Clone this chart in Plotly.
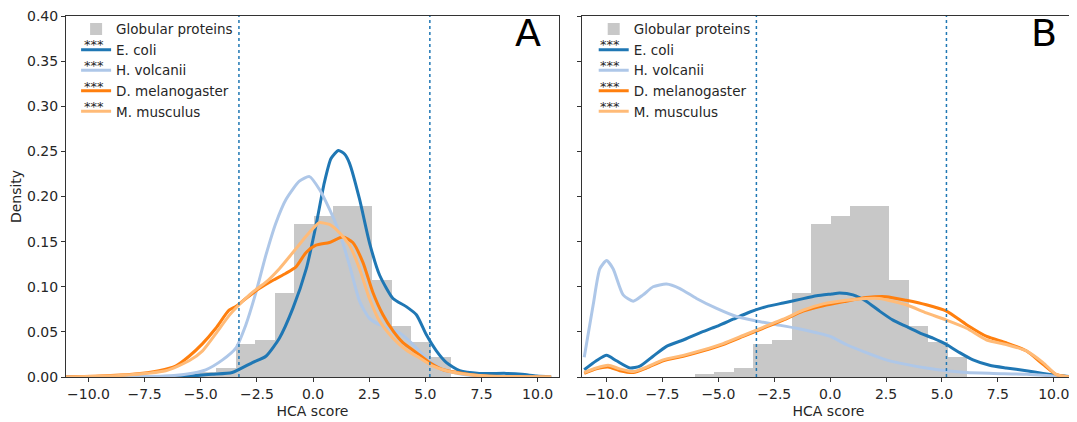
#!/usr/bin/env python3
"""
Distribution des scores HCA : protéines globulaires vs protéomes
"""

import plotly.graph_objects as go
from plotly.subplots import make_subplots

# Histogramme des protéines globulaires (identique dans A et B)
bin_edges = [-6.06, -5.19, -4.32, -3.45, -2.58, -1.71, -0.84, 0.03,
             0.90, 1.77, 2.64, 3.51, 4.38, 5.25, 6.12]
globular_density = [0.003, 0.005, 0.010, 0.037, 0.041, 0.093, 0.170,
                    0.178, 0.189, 0.189, 0.108, 0.057, 0.039, 0.022]

# Seuils (lignes pointillées)
thresholds = [-3.3, 5.2]

species = ["E. coli", "H. volcanii", "D. melanogaster", "M. musculus"]
colors = ["#1f77b4", "#aec7e8", "#ff7f0e", "#ffbb78"]

# Panneau A : courbes de densité
a_ecoli_x = [-11.0, -7.0, -5.5, -4.5, -3.6, -2.7, -2.1, -1.5, -0.9, -0.3, 0.13,
             0.5, 0.8, 1.13, 1.4, 1.62, 2.07, 2.51, 2.96, 3.56, 4.15, 4.6, 5.04,
             5.49, 5.94, 6.53, 7.4, 8.6, 9.3, 9.96, 10.6]
a_ecoli_y = [0.0, 0.0005, 0.001, 0.003, 0.005, 0.016, 0.023, 0.043, 0.076, 0.12,
             0.168, 0.215, 0.242, 0.251, 0.247, 0.237, 0.197, 0.149, 0.113, 0.087,
             0.078, 0.069, 0.047, 0.029, 0.016, 0.007, 0.004, 0.004, 0.003, 0.001, 0.0]

a_hvol_x = [-11.0, -6.6, -5.67, -4.78, -4.03, -3.44, -2.99, -2.54, -2.1, -1.65,
            -1.2, -0.61, -0.16, 0.28, 0.73, 1.17, 1.62, 2.07, 2.51, 3.11, 3.85,
            4.45, 5.04, 5.64, 6.4, 7.4, 10.6]
a_hvol_y = [0.0, 0.001, 0.003, 0.008, 0.019, 0.032, 0.058, 0.094, 0.135, 0.171,
            0.197, 0.217, 0.222, 0.208, 0.186, 0.160, 0.124, 0.084, 0.065, 0.056,
            0.049, 0.036, 0.021, 0.010, 0.004, 0.001, 0.0]

a_dmel_x = [-11.0, -9.5, -8.05, -6.86, -6.12, -5.52, -4.92, -4.33, -3.74, -3.44,
            -2.99, -2.4, -1.8, -1.2, -0.76, -0.31, 0.13, 0.73, 1.32, 1.77, 2.22,
            2.66, 3.11, 3.56, 4.0, 4.6, 5.19, 5.79, 6.68, 7.7, 10.6]
a_dmel_y = [0.0, 0.001, 0.003, 0.007, 0.012, 0.023, 0.037, 0.054, 0.074, 0.078,
            0.087, 0.098, 0.107, 0.115, 0.122, 0.138, 0.146, 0.149, 0.155, 0.149,
            0.127, 0.094, 0.069, 0.051, 0.038, 0.027, 0.016, 0.008, 0.004, 0.001, 0.0]

a_mmus_x = [-11.0, -8.5, -6.56, -5.52, -4.92, -4.33, -3.74, -3.29, -2.69, -2.1,
            -1.5, -0.9, -0.31, 0.13, 0.28, 0.73, 1.17, 1.62, 2.07, 2.51, 2.96,
            3.56, 4.15, 4.75, 5.34, 5.94, 6.83, 7.7, 10.6]
a_mmus_y = [0.0, 0.002, 0.007, 0.018, 0.029, 0.048, 0.068, 0.080, 0.094, 0.105,
            0.120, 0.138, 0.156, 0.168, 0.171, 0.169, 0.160, 0.146, 0.120, 0.087,
            0.062, 0.043, 0.030, 0.021, 0.012, 0.007, 0.003, 0.001, 0.0]

# Panneau B : courbes de densité
b_ecoli_x = [-11.0, -10.46, -10.0, -9.56, -8.96, -8.51, -7.92, -7.32, -6.57,
             -5.83, -5.08, -4.34, -3.59, -2.85, -2.1, -1.36, -0.61, 0.07, 0.42,
             1.02, 1.61, 2.21, 2.81, 3.4, 4.0, 4.6, 5.2, 5.79, 6.39, 7.13, 7.87,
             8.77, 9.52, 10.1, 10.9]
b_ecoli_y = [0.008, 0.018, 0.024, 0.018, 0.010, 0.012, 0.023, 0.034, 0.041,
             0.049, 0.056, 0.064, 0.072, 0.078, 0.082, 0.086, 0.090, 0.092, 0.093,
             0.091, 0.084, 0.073, 0.063, 0.056, 0.049, 0.043, 0.036, 0.027, 0.019,
             0.013, 0.010, 0.007, 0.004, 0.002, 0.0]

b_hvol_x = [-11.0, -10.6, -10.3, -10.0, -9.71, -9.26, -8.81, -8.37, -7.92, -7.32,
            -6.72, -5.98, -5.08, -4.19, -3.3, -2.4, -1.51, -0.61, 0.0, 0.72, 1.61,
            2.51, 3.4, 4.3, 5.2, 6.1, 7.3, 8.8, 10.1, 10.9]
b_hvol_y = [0.022, 0.080, 0.120, 0.129, 0.120, 0.091, 0.084, 0.091, 0.100, 0.103,
            0.098, 0.087, 0.076, 0.067, 0.062, 0.058, 0.054, 0.049, 0.045, 0.036,
            0.027, 0.019, 0.014, 0.010, 0.007, 0.005, 0.004, 0.003, 0.001, 0.0]

b_dmel_x = [-11.0, -10.46, -9.93, -9.41, -8.81, -8.22, -7.47, -6.57, -5.68, -4.79,
            -3.89, -3.0, -2.1, -1.21, -0.31, 0.72, 1.61, 2.51, 3.4, 4.3, 5.2, 6.1,
            7.0, 7.87, 8.77, 9.52, 10.1, 10.7]
b_dmel_y = [0.004, 0.009, 0.011, 0.007, 0.005, 0.010, 0.018, 0.023, 0.029, 0.036,
            0.045, 0.054, 0.063, 0.073, 0.079, 0.084, 0.088, 0.089, 0.085, 0.080,
            0.073, 0.058, 0.045, 0.038, 0.029, 0.014, 0.003, 0.0]

b_mmus_x = [-11.0, -10.46, -9.93, -9.41, -8.81, -8.22, -7.47, -6.57, -5.68, -4.79,
            -3.89, -3.0, -2.1, -1.21, -0.31, 0.72, 1.61, 2.2, 3.4, 4.3, 5.2, 6.1,
            7.0, 7.87, 8.77, 9.52, 10.1, 10.7]
b_mmus_y = [0.005, 0.010, 0.013, 0.009, 0.006, 0.011, 0.019, 0.024, 0.030, 0.037,
            0.046, 0.055, 0.064, 0.074, 0.081, 0.085, 0.087, 0.087, 0.080, 0.071,
            0.063, 0.054, 0.041, 0.036, 0.029, 0.016, 0.003, 0.0]

x_ticks = [-10.0, -7.5, -5.0, -2.5, 0.0, 2.5, 5.0, 7.5, 10.0]
y_ticks = [0.0, 0.05, 0.10, 0.15, 0.20, 0.25, 0.30, 0.35, 0.40]

FONT = "DejaVu Sans"
TXT = "#262626"


def add_panel(fig, col, curves, legend_name):
    """Ajoute histogramme + courbes KDE dans un panneau"""
    centers = [(a + b) / 2 for a, b in zip(bin_edges[:-1], bin_edges[1:])]
    widths = [b - a for a, b in zip(bin_edges[:-1], bin_edges[1:])]
    fig.add_trace(
        go.Bar(
            x=centers,
            y=globular_density,
            width=widths,
            name="Globular proteins",
            marker=dict(color="#c8c8c8", line=dict(width=0)),
            legend=legend_name,
            legendgroup=f"{legend_name}_glob",
        ),
        row=1,
        col=col,
    )
    for i, (xs, ys) in enumerate(curves):
        fig.add_trace(
            go.Scatter(
                x=xs,
                y=ys,
                mode="lines",
                name=species[i],
                line=dict(color=colors[i], width=3, shape="spline", smoothing=0.6),
                legend=legend_name,
                legendgroup=f"{legend_name}_{i}",
            ),
            row=1,
            col=col,
        )
    for t in thresholds:
        fig.add_vline(
            x=t, line_dash="dot", line_color="#1f77b4", line_width=1.5, row=1, col=col
        )


fig = make_subplots(rows=1, cols=2)

add_panel(
    fig,
    1,
    [(a_ecoli_x, a_ecoli_y), (a_hvol_x, a_hvol_y), (a_dmel_x, a_dmel_y), (a_mmus_x, a_mmus_y)],
    "legend",
)
add_panel(
    fig,
    2,
    [(b_ecoli_x, b_ecoli_y), (b_hvol_x, b_hvol_y), (b_dmel_x, b_dmel_y), (b_mmus_x, b_mmus_y)],
    "legend2",
)

axis_common = dict(
    showline=True,
    mirror=True,
    linecolor="#333333",
    linewidth=1,
    ticks="outside",
    ticklen=4,
    tickcolor="#333333",
    showgrid=False,
    zeroline=False,
    automargin=False,
    ticklabeloverflow="allow",
    tickfont=dict(family=FONT, size=14, color=TXT),
)

fig.update_xaxes(
    tickvals=x_ticks,
    tickformat=".1f",
    title=dict(text="HCA score", font=dict(family=FONT, size=14, color=TXT), standoff=5),
    **axis_common,
)
fig.update_xaxes(domain=[0.0, 0.4886], range=[-11.0, 10.95], row=1, col=1)
fig.update_xaxes(domain=[0.5114, 1.0], range=[-11.1, 10.95], row=1, col=2)

fig.update_yaxes(range=[0, 0.40], tickvals=y_ticks, tickformat=".2f", **axis_common)
fig.update_yaxes(
    title=dict(text="Density", font=dict(family=FONT, size=14, color=TXT), standoff=5),
    row=1,
    col=1,
)
fig.update_yaxes(showticklabels=False, row=1, col=2)

legend_common = dict(
    yanchor="top",
    y=1.006,
    xanchor="left",
    bgcolor="rgba(0,0,0,0)",
    font=dict(family=FONT, size=13.5, color=TXT),
    tracegroupgap=0,
)

# Étoiles de significativité au-dessus des symboles de légende
notes = []
for xref, yref, x0 in [("x", "y", -9.75), ("x2", "y2", -9.85)]:
    for k in range(4):
        notes.append(
            dict(
                text="***",
                x=x0,
                y=0.368 - k * 0.0228,
                xref=xref,
                yref=yref,
                xanchor="center",
                showarrow=False,
                font=dict(family=FONT, size=13, color=TXT),
            )
        )

# Lettres des panneaux
for xref, label in [("x domain", "A"), ("x2 domain", "B")]:
    notes.append(
        dict(
            text=label,
            x=0.937,
            y=0.954,
            xref=xref,
            yref="y domain",
            xanchor="center",
            yanchor="middle",
            showarrow=False,
            font=dict(family=FONT, size=38, color="black"),
        )
    )

# La page ajoute une marge de 8 px : la figure est réduite d'autant
fig.update_layout(
    width=1069,
    height=415,
    margin=dict(l=58, r=2, t=8, b=46),
    plot_bgcolor="white",
    paper_bgcolor="white",
    barmode="overlay",
    bargap=0,
    font=dict(family=FONT, size=14, color=TXT),
    legend=dict(x=0.010, **legend_common),
    legend2=dict(x=0.523, **legend_common),
    annotations=notes,
)

fig.write_html("out.html")
